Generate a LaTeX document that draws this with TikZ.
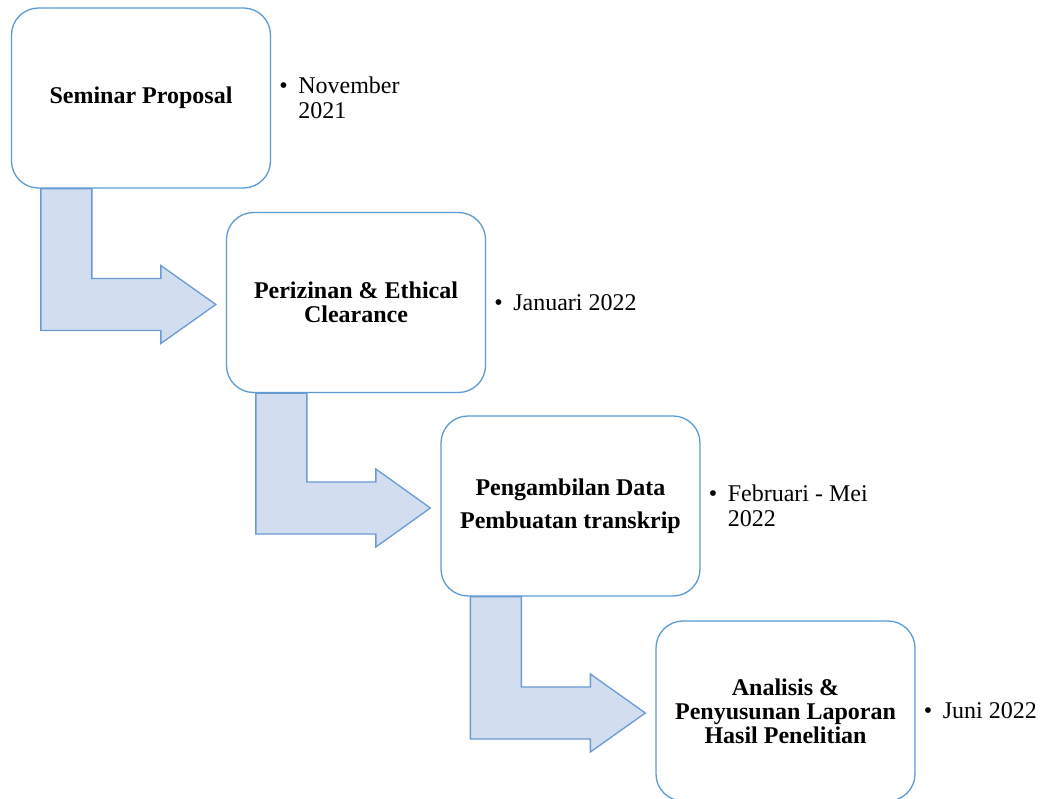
\documentclass[tikz,border=0pt]{standalone}
\usepackage{fontspec}
\usepackage{xcolor}
\usepackage{tikz}
\usetikzlibrary{calc,positioning}
\setmainfont{Liberation Serif}
\definecolor{edgeblue} {HTML}{5B9BD5}
\definecolor{arrowfill}{HTML}{D2DDEF}
\definecolor{arrowedge}{HTML}{6A9BD2}
\renewcommand{\large}{\fontsize{24}{24}\selectfont}
\newcommand{\datefont}{\fontsize{24}{25}\selectfont}
\newcommand{\bul}{\makebox[19pt][l]{\textbullet}}
\newcommand{\bentarrow}[2]{%
  \draw[arrowedge, fill=arrowfill, line width=1.3pt, line join=miter]
    let \p1=(#1.south west), \p2=(#2.west) in
    (\x1+30pt,\y1) -- (\x1+81pt,\y1) -- (\x1+81pt,\y2+24pt)
    -- (\x1+150pt,\y2+24pt) -- (\x1+150pt,\y2+37pt) -- (\x2-10pt,\y2-2pt)
    -- (\x1+150pt,\y2-41pt) -- (\x1+150pt,\y2-28pt) -- (\x1+30pt,\y2-28pt) -- cycle;}

\begin{document}
\begin{tikzpicture}[x=1pt, y=1pt,
    stepbox/.style={draw=edgeblue, line width=1.3pt, fill=white,
      rounded corners=27pt, minimum width=259pt, minimum height=180pt,
      inner sep=0pt, align=center, font=\large\bfseries},
    datenote/.style={anchor=west, inner sep=0pt, align=left, font=\datefont}]
  \clip (0,0) rectangle (1044,798);
  \fill[white] (0,0) rectangle (1044,798);
  % tahapan
  \node[stepbox] (s1) at (141,700)   {Seminar Proposal};
  \node[stepbox] (s2) at (356,495.5) {Perizinan \& Ethical\\Clearance};
  \node[stepbox] (s3) at (570.5,292) {Pengambilan Data\\[9pt]Pembuatan transkrip};
  \node[stepbox] (s4) at (785.5,87)  {Analisis \&\\Penyusunan Laporan\\Hasil Penelitian};
  % waktu
  \node[datenote, right=8pt of s1] (t1) {\bul November\\\hspace*{19pt}2021};
  \node[datenote, right=8pt of s2] (t2) {\bul Januari 2022};
  \node[datenote, right=8pt of s3] (t3) {\bul Februari - Mei\\\hspace*{19pt}2022};
  \node[datenote, right=8pt of s4] (t4) {\bul Juni 2022};
  % panah
  \bentarrow{s1}{s2}
  \bentarrow{s2}{s3}
  \bentarrow{s3}{s4}
\end{tikzpicture}
\end{document}
